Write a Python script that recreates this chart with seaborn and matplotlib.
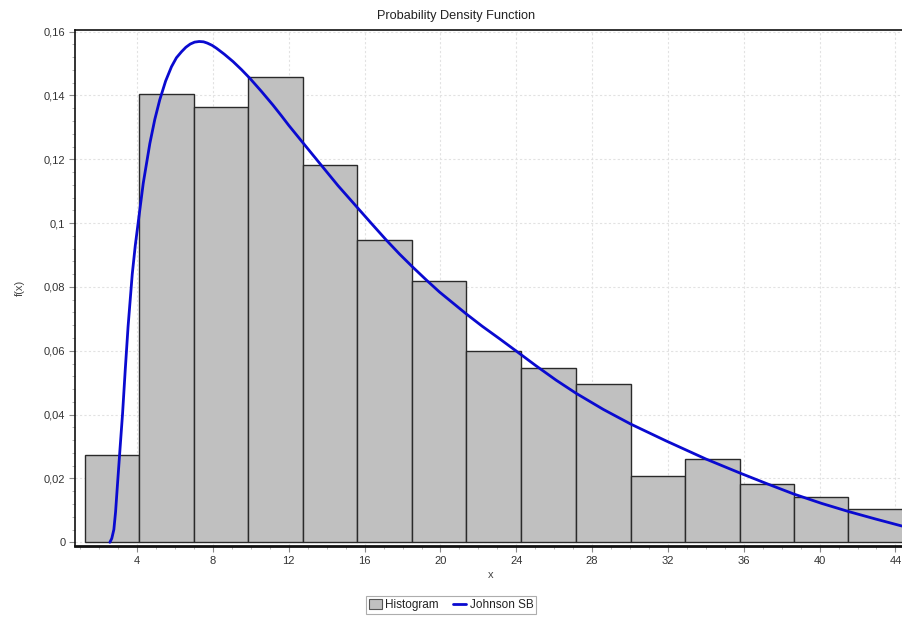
import matplotlib
matplotlib.use("Agg")
import matplotlib.pyplot as plt
from matplotlib.patches import Patch
from matplotlib.lines import Line2D
from matplotlib.ticker import MultipleLocator, FuncFormatter
import seaborn as sns
import pandas as pd

# ---- data ----
bin_edges = [1.24, 4.10, 7.00, 9.87, 12.74, 15.62, 18.51, 21.36, 24.25,
             27.13, 30.03, 32.92, 35.81, 38.63, 41.51, 44.39]
bin_heights = [0.0274, 0.1406, 0.1365, 0.1457, 0.1183, 0.0947, 0.0820, 0.0600,
               0.0546, 0.0496, 0.0208, 0.0261, 0.0182, 0.0142, 0.0104]

curve_x = [2.56, 2.66, 2.77, 2.86, 2.95, 3.09, 3.23, 3.37, 3.52, 3.74, 3.90,
           4.05, 4.32, 4.67, 4.93, 5.19, 5.50, 5.81, 6.07, 6.34, 6.57, 6.80,
           7.03, 7.27, 7.50, 7.70, 7.95, 8.18, 8.60, 9.06, 9.50, 9.94, 10.55,
           11.16, 11.60, 12.00, 12.74, 13.62, 14.60, 15.64, 16.40, 17.14,
           17.84, 18.54, 19.25, 19.95, 20.65, 21.35, 22.20, 23.11, 24.25,
           25.04, 26.10, 27.15, 28.60, 30.05, 31.89, 34.00, 35.84, 37.16,
           38.65, 40.10, 41.55, 42.95, 44.34]
curve_y = [0.0000, 0.0012, 0.0040, 0.0095, 0.0172, 0.0289, 0.0404, 0.0540,
           0.0676, 0.0840, 0.0930, 0.1000, 0.1125, 0.1250, 0.1325, 0.1386,
           0.1445, 0.1490, 0.1518, 0.1537, 0.1551, 0.1561, 0.1567, 0.1569,
           0.1568, 0.1564, 0.1557, 0.1548, 0.1529, 0.1506, 0.1481, 0.1454,
           0.1413, 0.1370, 0.1337, 0.1306, 0.1252, 0.1188, 0.1117, 0.1047,
           0.0996, 0.0947, 0.0903, 0.0862, 0.0822, 0.0784, 0.0750, 0.0716,
           0.0677, 0.0638, 0.0588, 0.0553, 0.0508, 0.0467, 0.0416, 0.0370,
           0.0318, 0.0261, 0.0216, 0.0185, 0.0151, 0.0122, 0.0096, 0.0073,
           0.0051]

title = "Probability Density Function"
x_label = "x"
y_label = "f(x)"
legend_labels = ["Histogram", "Johnson SB"]

# ---- style ----
sns.set_style("white")
plt.rcParams["font.family"] = ["Liberation Sans", "DejaVu Sans"]
plt.rcParams["font.size"] = 8

W, H = 903, 623
fig = plt.figure(figsize=(W / 100, H / 100), dpi=100)
ax = fig.add_axes([75 / W, (H - 546) / H, (W - 75) / W, (546 - 30) / H])

centers = [(bin_edges[i] + bin_edges[i + 1]) / 2 for i in range(len(bin_heights))]
hist_df = pd.DataFrame({"x": centers, "w": bin_heights})
sns.histplot(data=hist_df, x="x", weights="w", bins=bin_edges, stat="count",
             color="#c0c0c0", alpha=1.0, edgecolor="#2a2a2a", linewidth=1.0, ax=ax)

curve_df = pd.DataFrame({"x": curve_x, "y": curve_y})
sns.lineplot(data=curve_df, x="x", y="y", color="#0a0ad0", linewidth=2.0,
             sort=False, estimator=None, ax=ax)
for ln in ax.get_lines():
    ln.set_solid_joinstyle("round")
    ln.set_solid_capstyle("round")

ax.set_xlim(0.72, 44.40)
ax.set_ylim(-0.00116, 0.1605)

ax.xaxis.set_major_locator(MultipleLocator(4))
ax.xaxis.set_minor_locator(MultipleLocator(1))
ax.yaxis.set_major_locator(MultipleLocator(0.02))
ax.yaxis.set_minor_locator(MultipleLocator(0.004))

def comma_fmt(v, pos):
    s = ("%.2f" % v).rstrip("0").rstrip(".")
    if s in ("-0", ""):
        s = "0"
    return s.replace(".", ",")

ax.yaxis.set_major_formatter(FuncFormatter(comma_fmt))
ax.xaxis.set_major_formatter(FuncFormatter(lambda v, p: "%d" % round(v)))

ax.tick_params(axis="both", which="major", direction="out", length=4, width=0.8,
               color="#888888", labelsize=8, labelcolor="#333333", pad=3,
               bottom=True, left=True)
ax.tick_params(axis="both", which="minor", direction="out", length=2, width=0.6,
               color="#aaaaaa", bottom=True, left=True)

ax.grid(True, which="major", color="#e2e2e2", linestyle=(0, (2, 2)), linewidth=0.8)
ax.set_axisbelow(True)

for side in ("top", "left"):
    ax.spines[side].set_visible(True)
    ax.spines[side].set_color("#111111")
    ax.spines[side].set_linewidth(1.2)
ax.spines["bottom"].set_color("#111111")
ax.spines["bottom"].set_linewidth(2.0)
ax.spines["right"].set_visible(False)

ax.set_xlabel("")
ax.set_ylabel("")
fig.text(491 / W, 1 - 575 / H, x_label, ha="center", va="center",
         fontsize=8, color="#444444")
fig.text(20 / W, 1 - 288 / H, y_label, ha="center", va="center",
         rotation=90, fontsize=8, color="#444444")
fig.text(456 / W, 1 - 16 / H, title, ha="center", va="center",
         fontsize=9.2, color="#222222")

handles = [Patch(facecolor="#c0c0c0", edgecolor="#555555", linewidth=0.8),
           Line2D([0], [0], color="#0a0ad0", linewidth=2.0)]
leg = fig.legend(handles, legend_labels, loc="center", ncol=2,
                 bbox_to_anchor=(451 / W, 1 - 605 / H), frameon=True,
                 fancybox=False, fontsize=8.5, handlelength=1.1, handleheight=0.9,
                 handletextpad=0.3, columnspacing=1.2, borderpad=0.25,
                 borderaxespad=0)
leg.get_frame().set_edgecolor("#999999")
leg.get_frame().set_linewidth(0.8)
for t in leg.get_texts():
    t.set_color("#222222")

fig.savefig("out.png", dpi=100)
